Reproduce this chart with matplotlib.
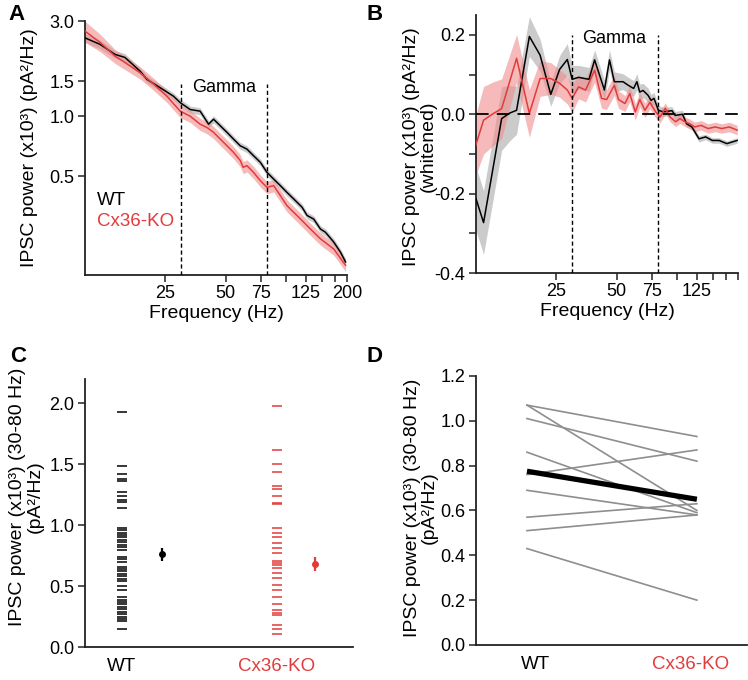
import matplotlib
matplotlib.use('Agg')
import matplotlib.pyplot as plt
import numpy as np

plt.rcParams['font.family'] = ['Liberation Sans', 'DejaVu Sans']
plt.rcParams['font.size'] = 13

RED = '#e23b3b'
PINK = '#f08c8c'
GREYBAND = '#b5b5b5'
SPINE = '#222222'
TICK_FS = 13
LABEL_FS = 14

# ---------------- Panel A data (raw power spectrum, log-log) ----------------
a_wt_freq = [10.0, 11.9, 14.1, 15.8, 18.8, 20.3, 23.6, 27.5, 29.7, 33.3, 37.3, 41.1,
             43.5, 50.7, 54.7, 59.0, 63.7, 68.7, 74.3, 80.1, 86.5, 93.3, 100.7, 108.7,
             119.6, 126.7, 136.7, 147.6, 156.3, 171.9, 185.7, 196.7]
a_wt_pow = [2.47, 2.29, 2.04, 1.97, 1.68, 1.53, 1.39, 1.26, 1.17, 1.08, 1.06, 0.912,
            0.966, 0.83, 0.767, 0.711, 0.684, 0.634, 0.587, 0.523, 0.484, 0.449, 0.415, 0.385,
            0.35, 0.318, 0.305, 0.272, 0.262, 0.234, 0.208, 0.186]
a_wt_sem = [0.05, 0.05, 0.045, 0.045, 0.04, 0.04, 0.04, 0.04, 0.04, 0.04, 0.04, 0.04,
            0.04, 0.04, 0.04, 0.04, 0.04, 0.04, 0.04, 0.04, 0.04, 0.04, 0.04, 0.04,
            0.04, 0.04, 0.04, 0.04, 0.04, 0.04, 0.04, 0.04]

a_ko_freq = [10.0, 11.9, 14.1, 15.4, 18.8, 21.9, 25.5, 29.7, 33.3, 37.3, 40.3, 43.5,
             47.0, 50.7, 54.7, 59.0, 61.0, 63.7, 68.7, 74.3, 80.1, 86.5, 93.3, 100.7,
             108.7, 119.6, 131.6, 147.6, 171.9, 196.7]
a_ko_pow = [2.67, 2.34, 2.0, 1.89, 1.65, 1.45, 1.26, 1.06, 1.0, 0.912, 0.878, 0.83,
            0.767, 0.711, 0.658, 0.6, 0.554, 0.565, 0.523, 0.475, 0.44, 0.449, 0.4, 0.356,
            0.33, 0.3, 0.272, 0.243, 0.216, 0.179]
a_ko_sem = [0.12, 0.10, 0.08, 0.08, 0.07, 0.07, 0.07, 0.07, 0.07, 0.07, 0.07, 0.07,
            0.07, 0.07, 0.07, 0.07, 0.07, 0.07, 0.07, 0.07, 0.07, 0.07, 0.07, 0.07,
            0.07, 0.07, 0.07, 0.07, 0.07, 0.07]

# ---------------- Panel B data (whitened spectrum) ----------------
b_wt_freq = [10.0, 10.9, 13.4, 14.7, 15.9, 18.4, 20.8, 23.5, 26.0, 28.4, 30.0, 32.3,
             36.4, 38.8, 43.4, 46.0, 48.6, 53.7, 57.0, 60.6, 62.9, 65.0, 67.5, 71.4,
             74.0, 76.5, 80.5, 85.0, 94.0, 97.5, 106.0, 111.0, 118.0, 128.0, 138.0,
             149.0, 161.0, 176.0, 198.0]
b_wt_val = [-0.213, -0.273, -0.011, 0.003, 0.010, 0.196, 0.149, 0.050, 0.113, 0.138, 0.088, 0.093,
            0.088, 0.137, 0.061, 0.137, 0.082, 0.082, 0.073, 0.065, 0.082, 0.056, 0.060, 0.048,
            0.035, 0.040, 0.010, 0.006, 0.009, -0.003, 0.000, -0.024, -0.032, -0.062, -0.057,
            -0.066, -0.066, -0.074, -0.066]
b_wt_sem = [0.08, 0.08, 0.08, 0.07, 0.06, 0.05, 0.04, 0.03, 0.035, 0.04, 0.035, 0.03,
            0.03, 0.025, 0.025, 0.025, 0.025, 0.02, 0.02, 0.02, 0.02, 0.02, 0.018, 0.018,
            0.015, 0.015, 0.012, 0.012, 0.01, 0.01, 0.01, 0.008, 0.008, 0.008, 0.007,
            0.007, 0.007, 0.007, 0.007]

b_ko_freq = [9.9, 10.9, 12.2, 13.4, 15.9, 18.4, 20.8, 23.5, 26.0, 28.4, 30.0, 32.3,
             35.0, 38.8, 42.0, 44.5, 48.6, 51.0, 54.9, 58.0, 61.8, 65.0, 69.0, 73.0,
             78.0, 82.0, 87.0, 92.0, 98.0, 103.0, 109.0, 115.0, 122.0, 131.0, 142.0,
             154.0, 166.0, 181.0, 198.0]
b_ko_val = [-0.083, -0.015, 0.002, 0.014, 0.141, 0.002, 0.090, 0.090, 0.078, 0.061, 0.040, 0.069,
            0.061, 0.111, 0.040, 0.037, 0.073, 0.037, 0.027, 0.052, 0.006, 0.037, 0.010, 0.030,
            0.006, -0.007, 0.015, -0.007, -0.019, -0.011, -0.019, -0.024, -0.032, -0.028, -0.036,
            -0.032, -0.036, -0.032, -0.040]
b_ko_sem = [0.075, 0.085, 0.08, 0.075, 0.06, 0.06, 0.045, 0.04, 0.035, 0.035, 0.035, 0.03,
            0.03, 0.03, 0.025, 0.025, 0.025, 0.022, 0.02, 0.02, 0.02, 0.018, 0.018, 0.016,
            0.015, 0.015, 0.014, 0.012, 0.012, 0.012, 0.012, 0.012, 0.012, 0.012, 0.012,
            0.012, 0.012, 0.012, 0.012]

freq_ticks = [25, 50, 75, 100, 125, 150, 175, 200]
a_freq_labels = ['25', '50', '75', '', '125', '', '', '200']
b_freq_labels = ['25', '50', '75', '', '125', '', '', '']
gamma_band = [30, 80]

# ---------------- Panel C data (gamma power per cell) ----------------
c_wt = [1.93, 1.49, 1.42, 1.38, 1.36, 1.27, 1.24, 1.21, 1.19, 1.14,
        0.98, 0.96, 0.94, 0.92, 0.90, 0.88, 0.86, 0.84, 0.82, 0.80,
        0.74, 0.72, 0.70, 0.66, 0.64, 0.62, 0.60, 0.58, 0.56, 0.54,
        0.50, 0.47, 0.41, 0.39, 0.37, 0.35, 0.33, 0.31, 0.29, 0.27,
        0.25, 0.23, 0.21, 0.15]
c_ko = [1.98, 1.62, 1.50, 1.44, 1.32, 1.30, 1.24, 1.18, 1.17, 0.98,
        0.94, 0.90, 0.85, 0.81, 0.77, 0.71, 0.69, 0.67, 0.65, 0.61,
        0.57, 0.51, 0.47, 0.41, 0.35, 0.30, 0.28, 0.26, 0.18, 0.15, 0.11]
c_means = [0.76, 0.68]
c_sems = [0.05, 0.055]

# ---------------- Panel D data (paired) ----------------
d_wt = [1.07, 1.07, 1.01, 0.86, 0.76, 0.69, 0.57, 0.51, 0.43]
d_ko = [0.93, 0.60, 0.82, 0.59, 0.87, 0.58, 0.63, 0.58, 0.20]
d_mean = [0.775, 0.65]

groups = ['WT', 'Cx36-KO']
group_colors = ['black', RED]


def style(ax):
    for s in ['top', 'right']:
        ax.spines[s].set_visible(False)
    for s in ['left', 'bottom']:
        ax.spines[s].set_linewidth(1.3)
        ax.spines[s].set_color(SPINE)
    ax.tick_params(direction='out', length=5, width=1.1, color=SPINE, pad=2.5,
                   labelsize=TICK_FS)


fig = plt.figure(figsize=(7.48, 6.8), dpi=100)

# ======== A ========
axA = fig.add_axes([0.1136, 0.5956, 0.3503, 0.3735])
style(axA)
axA.set_xscale('log')
axA.set_yscale('log')
f = np.array(a_wt_freq); p = np.array(a_wt_pow); s = np.array(a_wt_sem)
axA.fill_between(f, p * (1 - s), p * (1 + s), color=GREYBAND, alpha=0.7, lw=0)
f2 = np.array(a_ko_freq); p2 = np.array(a_ko_pow); s2 = np.array(a_ko_sem)
axA.fill_between(f2, p2 * (1 - s2), p2 * (1 + s2), color=PINK, alpha=0.6, lw=0)
axA.plot(f, p, color='black', lw=1.1, zorder=3)
axA.plot(f2, p2, color=RED, lw=1.1, zorder=3)
for g in gamma_band:
    axA.plot([g, g], [0.16, 1.445], color='black', lw=1.0, ls=(0, (3, 2)), zorder=4)
axA.text(49, 1.40, 'Gamma', ha='center', va='center', fontsize=13)
axA.set_xlim(10, 200)
axA.set_ylim(0.16, 3.0)
axA.set_xticks(freq_ticks)
axA.set_xticklabels(a_freq_labels)
axA.xaxis.set_minor_locator(matplotlib.ticker.NullLocator())
axA.set_yticks([0.5, 1.0, 1.5, 3.0])
axA.set_yticklabels(['0.5', '1.0', '1.5', '3.0'])
axA.yaxis.set_minor_locator(matplotlib.ticker.NullLocator())
axA.set_xlabel('Frequency (Hz)', labelpad=2, fontsize=LABEL_FS)
axA.set_ylabel('IPSC power (x10³) (pA²/Hz)', fontsize=LABEL_FS)
axA.yaxis.set_label_coords(-0.18, 0.5)
axA.text(0.046, 0.295, 'WT', transform=axA.transAxes, color='black', va='center',
         ha='left', fontsize=13.5)
axA.text(0.046, 0.209, 'Cx36-KO', transform=axA.transAxes, color=RED, va='center',
         ha='left', fontsize=13.5)

# ======== B ========
axB = fig.add_axes([0.6364, 0.5985, 0.3503, 0.3794])
style(axB)
axB.set_xscale('log')
f = np.array(b_wt_freq); v = np.array(b_wt_val); s = np.array(b_wt_sem)
axB.fill_between(f, v - s, v + s, color=GREYBAND, alpha=0.7, lw=0)
f2 = np.array(b_ko_freq); v2 = np.array(b_ko_val); s2 = np.array(b_ko_sem)
axB.fill_between(f2, v2 - s2, v2 + s2, color=PINK, alpha=0.6, lw=0)
axB.plot(f, v, color='black', lw=1.1, zorder=3)
axB.plot(f2, v2, color=RED, lw=1.1, zorder=3)
axB.plot([10, 200], [0, 0], color='black', lw=1.3, ls=(0, (7, 4.5)), zorder=4)
for g in gamma_band:
    axB.plot([g, g], [-0.4, 0.2], color='black', lw=1.0, ls=(0, (3, 2)), zorder=4)
axB.text(48.5, 0.19, 'Gamma', ha='center', va='center', fontsize=13)
axB.set_xlim(10, 200)
axB.set_ylim(-0.4, 0.25)
axB.set_xticks(freq_ticks)
axB.set_xticklabels(b_freq_labels)
axB.xaxis.set_minor_locator(matplotlib.ticker.NullLocator())
axB.set_yticks([-0.4, -0.3, -0.2, -0.1, 0.0, 0.1, 0.2])
axB.set_yticklabels(['-0.4', '', '-0.2', '', '0.0', '', '0.2'])
axB.set_xlabel('Frequency (Hz)', labelpad=2, fontsize=LABEL_FS)
axB.set_ylabel('IPSC power (x10³) (pA²/Hz)\n(whitened)', linespacing=1.0, fontsize=LABEL_FS)
axB.yaxis.set_label_coords(-0.15, 0.49)

# ======== C ========
axC = fig.add_axes([0.1136, 0.0485, 0.3583, 0.3941])
style(axC)
xpos_c = [0.138, 0.716]
xmean_c = [0.287, 0.858]
for vals, x, xm, m, se, col in zip([c_wt, c_ko], xpos_c, xmean_c, c_means, c_sems, group_colors):
    axC.plot(np.full(len(vals), x), vals, ls='none', marker='_', ms=7.5, mew=1.1, color=col)
    axC.errorbar([xm], [m], yerr=[se], fmt='o', ms=4, color=col, elinewidth=1.6, capsize=0)
axC.set_xlim(0, 1)
axC.set_ylim(0, 2.2)
axC.set_yticks([0, 0.5, 1.0, 1.5, 2.0])
axC.set_yticklabels(['0.0', '0.5', '1.0', '1.5', '2.0'])
axC.set_xticks(xpos_c)
axC.set_xticklabels(groups)
axC.tick_params(axis='x', length=0, pad=8, labelsize=13.5)
for lab, col in zip(axC.get_xticklabels(), group_colors):
    lab.set_color(col)
axC.set_ylabel('IPSC power (x10³) (30-80 Hz)\n(pA²/Hz)', linespacing=1.0, fontsize=LABEL_FS)
axC.yaxis.set_label_coords(-0.155, 0.56)

# ======== D ========
axD = fig.add_axes([0.6364, 0.0515, 0.3623, 0.3956])
style(axD)
xd = [0.188, 0.815]
for w, k in zip(d_wt, d_ko):
    axD.plot(xd, [w, k], color='#8e8e8e', lw=1.2)
axD.plot(xd, d_mean, color='black', lw=3.8, solid_capstyle='butt', zorder=3)
axD.set_xlim(0, 1)
axD.set_ylim(0, 1.2)
axD.set_yticks([0, 0.2, 0.4, 0.6, 0.8, 1.0, 1.2])
axD.set_yticklabels(['0.0', '0.2', '0.4', '0.6', '0.8', '1.0', '1.2'])
axD.set_xticks([0.22, 0.793])
axD.set_xticklabels(groups)
axD.tick_params(axis='x', length=0, pad=8, labelsize=13.5)
for lab, col in zip(axD.get_xticklabels(), group_colors):
    lab.set_color(col)
axD.set_ylabel('IPSC power (x10³) (30-80 Hz)\n(pA²/Hz)', linespacing=1.0, fontsize=LABEL_FS)
axD.yaxis.set_label_coords(-0.14, 0.51)

# panel letters
for letter, x, y in [('A', 8, 15), ('B', 367, 15), ('C', 10, 356), ('D', 367, 356)]:
    fig.text(x / 748, 1 - y / 680, letter, fontsize=16, fontweight='bold',
             ha='left', va='center')

fig.savefig('out.png', dpi=100)
